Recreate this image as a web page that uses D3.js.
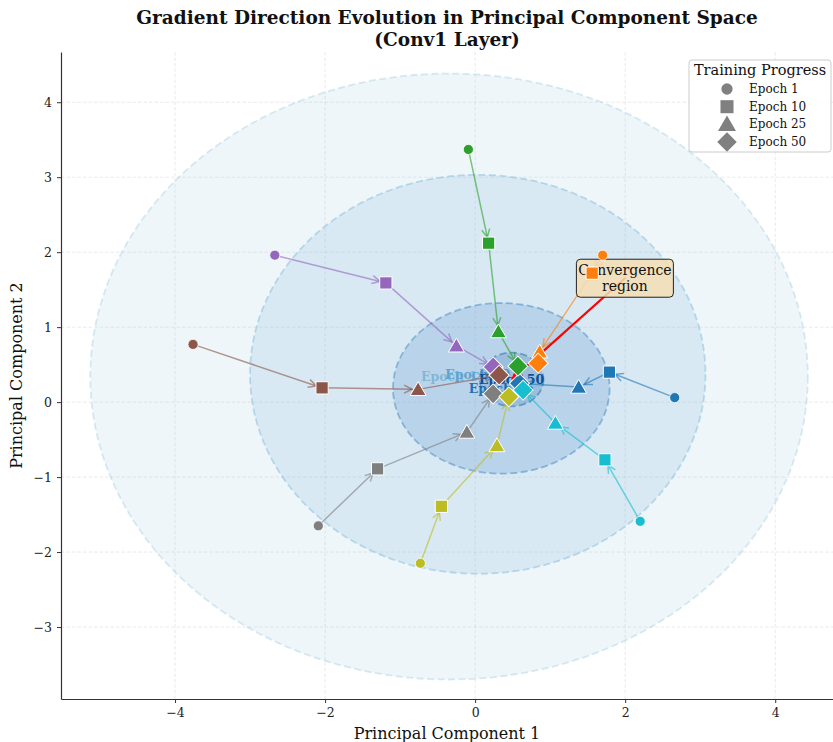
<!DOCTYPE html>
<html>
<head>
<meta charset="utf-8">
<script src="https://cdn.jsdelivr.net/npm/d3@7"></script>
<style>
  html, body { margin: 0; padding: 0; background: #fff; }
  svg { display: block; font-family: "DejaVu Serif", serif; }
</style>
</head>
<body>
<svg id="chart" width="833" height="742"></svg>
<script>
// ---- data -------------------------------------------------------------
const epochLabels = ["Epoch 1", "Epoch 10", "Epoch 25", "Epoch 50"];
const trajectoryColors = ["#1f77b4", "#ff7f0e", "#2ca02c", "#9467bd",
                          "#8c564b", "#7f7f7f", "#bcbd22", "#17becf"];

// PC1 / PC2 coordinates of each trajectory at each checkpoint
const epoch1PC1  = [2.66, 1.70, -0.09, -2.67, -3.76, -2.09, -0.73, 2.20];
const epoch1PC2  = [0.06, 1.96, 3.37, 1.96, 0.77, -1.65, -2.15, -1.59];
const epoch10PC1 = [1.79, 1.56, 0.18, -1.19, -2.04, -1.30, -0.45, 1.73];
const epoch10PC2 = [0.40, 1.72, 2.12, 1.59, 0.19, -0.89, -1.39, -0.77];
const epoch25PC1 = [1.38, 0.86, 0.31, -0.25, -0.76, -0.11, 0.29, 1.07];
const epoch25PC2 = [0.20, 0.67, 0.94, 0.75, 0.17, -0.40, -0.58, -0.28];
const epoch50PC1 = [0.59, 0.84, 0.57, 0.24, 0.32, 0.24, 0.45, 0.64];
const epoch50PC2 = [0.25, 0.52, 0.48, 0.47, 0.36, 0.11, 0.07, 0.16];

const xTicks = [-4, -2, 0, 2, 4];
const yTicks = [-3, -2, -1, 0, 1, 2, 3, 4];
const xDomain = [-5.52, 4.77];
const yDomain = [-3.96, 4.67];

const epochColors = ["#9ecae1", "#6baed6", "#2171b5", "#08519c"];
const annotationText = ["Convergence", "region"];
const annotationOffset = [1.51, 1.35];

// ---- layout -----------------------------------------------------------
const svg = d3.select("#chart");
const margin = { left: 61, right: 0, top: 52, bottom: 43 };
const W = 833, H = 742;
const x = d3.scaleLinear().domain(xDomain).range([margin.left, W - margin.right]);
const y = d3.scaleLinear().domain(yDomain).range([H - margin.bottom, margin.top]);

const pc1 = [epoch1PC1, epoch10PC1, epoch25PC1, epoch50PC1];
const pc2 = [epoch1PC2, epoch10PC2, epoch25PC2, epoch50PC2];
const nTraj = trajectoryColors.length;

// grid
const grid = svg.append("g");
grid.selectAll("line.gx").data(xTicks).join("line")
  .attr("x1", d => x(d)).attr("x2", d => x(d))
  .attr("y1", margin.top).attr("y2", H - margin.bottom)
  .attr("stroke", "#b0b0b0").attr("stroke-opacity", 0.3)
  .attr("stroke-width", 0.9).attr("stroke-dasharray", "3.5,2");
grid.selectAll("line.gy").data(yTicks).join("line")
  .attr("y1", d => y(d)).attr("y2", d => y(d))
  .attr("x1", margin.left).attr("x2", W - margin.right)
  .attr("stroke", "#b0b0b0").attr("stroke-opacity", 0.3)
  .attr("stroke-width", 0.9).attr("stroke-dasharray", "3.5,2");

const plot = svg.append("g");

// spread ellipses: centred on the checkpoint mean, semi-axes = 2 std
epochLabels.forEach((lab, e) => {
  const mx = d3.mean(pc1[e]), my = d3.mean(pc2[e]);
  const sx = d3.deviation(pc1[e]), sy = d3.deviation(pc2[e]);
  plot.append("ellipse")
    .attr("cx", x(mx)).attr("cy", y(my))
    .attr("rx", x(mx + 2 * sx) - x(mx))
    .attr("ry", y(my) - y(my + 2 * sy))
    .attr("fill", epochColors[e]).attr("fill-opacity", 0.17)
    .attr("stroke", epochColors[e]).attr("stroke-opacity", 0.4)
    .attr("stroke-width", 1.8).attr("stroke-dasharray", "7,3.5");
  plot.append("text")
    .attr("x", x(mx)).attr("y", y(my))
    .attr("text-anchor", "middle").attr("dominant-baseline", "central")
    .attr("font-size", 12.5).attr("font-weight", "bold")
    .attr("fill", epochColors[e])
    .text(lab);
});

// trajectory arrows between consecutive checkpoints
function arrow(g, x0, y0, x1, y1, color, opacity, width, shrink, head) {
  const dx = x1 - x0, dy = y1 - y0, len = Math.hypot(dx, dy);
  const ux = dx / len, uy = dy / len;
  const ex = x1 - ux * shrink, ey = y1 - uy * shrink;
  g.append("line").attr("x1", x0).attr("y1", y0).attr("x2", ex).attr("y2", ey)
    .attr("stroke", color).attr("stroke-opacity", opacity)
    .attr("stroke-width", width).attr("stroke-linecap", "round");
  const hl = head, hw = head * 0.5;
  const bx = ex - ux * hl, by = ey - uy * hl;
  g.append("path")
    .attr("d", `M${bx - uy * hw},${by + ux * hw} L${ex},${ey} L${bx + uy * hw},${by - ux * hw}`)
    .attr("fill", "none").attr("stroke", color).attr("stroke-opacity", opacity)
    .attr("stroke-width", width).attr("stroke-linejoin", "miter");
}

const arrows = plot.append("g");
for (let t = 0; t < nTraj; t++) {
  for (let e = 0; e < 3; e++) {
    arrow(arrows, x(pc1[e][t]), y(pc2[e][t]), x(pc1[e + 1][t]), y(pc2[e + 1][t]),
          trajectoryColors[t], 0.6, 1.5, 6, 8);
  }
}

// annotation pointing at the final centroid
const cx50 = d3.mean(epoch50PC1), cy50 = d3.mean(epoch50PC2);
const tx = cx50 + annotationOffset[0], ty = cy50 + annotationOffset[1];
const ann = plot.append("g");
arrow(ann, x(tx), y(ty), x(cx50), y(cy50), "red", 1, 2.2, 2, 9);
const boxW = 97, boxH = 38;
ann.append("rect")
  .attr("x", x(tx) - boxW / 2).attr("y", y(ty) - boxH / 2)
  .attr("width", boxW).attr("height", boxH).attr("rx", 4)
  .attr("fill", "#f5deb3").attr("fill-opacity", 0.85)
  .attr("stroke", "#222").attr("stroke-width", 1);
ann.append("text")
  .attr("x", x(tx)).attr("y", y(ty) - 8)
  .attr("text-anchor", "middle").attr("dominant-baseline", "central")
  .attr("font-size", 14).attr("fill", "#111")
  .selectAll("tspan").data(annotationText).join("tspan")
  .attr("x", x(tx)).attr("dy", (d, i) => i === 0 ? 0 : 16).text(d => d);

// markers: circle, square, triangle, diamond (square turned 45°)
const symbolTypes = [d3.symbolCircle, d3.symbolSquare, d3.symbolTriangle, d3.symbolSquare];
const symbolSizes = [80, 150, 110, 200];
const symbolRotate = [0, 0, 0, 45];
const markers = plot.append("g");
for (let e = 0; e < 4; e++) {
  for (let t = 0; t < nTraj; t++) {
    const triShift = e === 2 ? 1.5 : 0;
    markers.append("path")
      .attr("d", d3.symbol().type(symbolTypes[e]).size(symbolSizes[e])())
      .attr("transform", `translate(${x(pc1[e][t])},${y(pc2[e][t]) + triShift}) rotate(${symbolRotate[e]})`)
      .attr("fill", trajectoryColors[t])
      .attr("stroke", "#fff").attr("stroke-width", e === 0 ? 0.8 : 1);
  }
}

// axes
const fmt = d => d3.format("d")(d).replace("-", "\u2212");
const xAxis = svg.append("g").attr("transform", `translate(0,${H - margin.bottom})`)
  .call(d3.axisBottom(x).tickValues(xTicks).tickSize(4).tickSizeOuter(0).tickPadding(5).tickFormat(fmt));
const yAxis = svg.append("g").attr("transform", `translate(${margin.left},0)`)
  .call(d3.axisLeft(y).tickValues(yTicks).tickSize(4).tickSizeOuter(0).tickPadding(5).tickFormat(fmt));
[xAxis, yAxis].forEach(a => {
  a.selectAll("path.domain").attr("stroke", "#333").attr("stroke-width", 1.2);
  a.selectAll(".tick line").attr("stroke", "#333");
  a.selectAll(".tick text").attr("font-family", "DejaVu Serif").attr("font-size", 12.5).attr("fill", "#222");
});

svg.append("text").attr("x", (margin.left + W - margin.right) / 2).attr("y", 739)
  .attr("text-anchor", "middle").attr("font-size", 16).attr("fill", "#111")
  .text("Principal Component 1");
svg.append("text")
  .attr("transform", `translate(22,${(margin.top + H - margin.bottom) / 2}) rotate(-90)`)
  .attr("text-anchor", "middle").attr("font-size", 16).attr("fill", "#111")
  .text("Principal Component 2");

// title
svg.append("text").attr("x", (margin.left + W - margin.right) / 2).attr("y", 24)
  .attr("text-anchor", "middle").attr("font-size", 18.5).attr("font-weight", "bold")
  .attr("fill", "#111")
  .text("Gradient Direction Evolution in Principal Component Space");
svg.append("text").attr("x", (margin.left + W - margin.right) / 2).attr("y", 46)
  .attr("text-anchor", "middle").attr("font-size", 18.5).attr("font-weight", "bold")
  .attr("fill", "#111")
  .text("(Conv1 Layer)");

// legend
const lg = svg.append("g").attr("transform", "translate(689,60)");
lg.append("rect").attr("width", 142).attr("height", 92).attr("rx", 3)
  .attr("fill", "#fff").attr("fill-opacity", 0.85)
  .attr("stroke", "#ccc").attr("stroke-width", 1);
lg.append("text").attr("x", 71).attr("y", 15).attr("text-anchor", "middle")
  .attr("font-size", 14.5).attr("fill", "#111").text("Training Progress");
const legendSizes = [100, 170, 140, 190];
epochLabels.forEach((lab, i) => {
  const yy = 29 + i * 17.7;
  lg.append("path")
    .attr("d", d3.symbol().type(symbolTypes[i]).size(legendSizes[i])())
    .attr("transform", `translate(38,${yy + (i === 2 ? 1.5 : 0)}) rotate(${symbolRotate[i]})`)
    .attr("fill", "#808080");
  lg.append("text").attr("x", 60).attr("y", yy).attr("dominant-baseline", "central")
    .attr("font-size", 12).attr("fill", "#111").text(lab);
});
</script>
</body>
</html>
